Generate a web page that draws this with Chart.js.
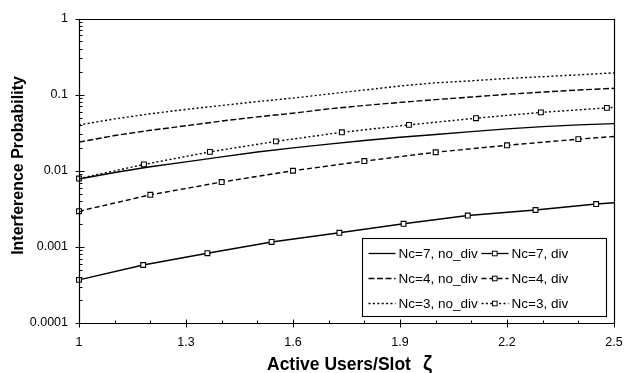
<!DOCTYPE html>
<html><head><meta charset="utf-8">
<script src="https://cdn.jsdelivr.net/npm/chart.js@4.4.1/dist/chart.umd.min.js"></script>
<style>html,body{margin:0;padding:0;background:#fff;} canvas{display:block;}</style>
</head><body>
<canvas id="c" width="637" height="373"></canvas>
<script>
// ---- data ----
const xNoDiv   = [1.0,1.1,1.2,1.3,1.4,1.5,1.6,1.7,1.8,1.9,2.0,2.1,2.2,2.3,2.4,2.5];
const nc7NoDiv = [0.0078,0.0095,0.0113,0.0131,0.0152,0.0176,0.0200,0.0224,0.0250,0.0275,0.0300,0.0327,0.0355,0.0380,0.0400,0.0416];
const nc4NoDiv = [0.0238,0.029,0.034,0.039,0.045,0.051,0.057,0.065,0.072,0.079,0.086,0.093,0.101,0.108,0.115,0.121];
const nc3NoDiv = [0.040,0.048,0.056,0.064,0.072,0.081,0.090,0.102,0.115,0.130,0.143,0.152,0.163,0.172,0.182,0.193];
const xNc7Div  = [1.0,1.18,1.36,1.54,1.73,1.91,2.09,2.28,2.45,2.5];
const nc7Div   = [0.000369,0.000578,0.000826,0.00116,0.00153,0.00201,0.00258,0.00305,0.00365,0.0038];
const xNc4Div  = [1.0,1.2,1.4,1.6,1.8,2.0,2.2,2.4,2.5];
const nc4Div   = [0.00294,0.00483,0.0071,0.0100,0.0134,0.0175,0.0216,0.026,0.0282];
const xNc3Div  = [1.0,1.182,1.367,1.552,1.737,1.925,2.113,2.295,2.48,2.5];
const nc3Div   = [0.0079,0.0121,0.0177,0.0243,0.032,0.040,0.049,0.0584,0.067,0.068];
const seriesNames = ['Nc=7, no_div','Nc=7, div','Nc=4, no_div','Nc=4, div','Nc=3, no_div','Nc=3, div'];
const xTickValues = [1,1.3,1.6,1.9,2.2,2.5];
const xTickLabels = ['1','1.3','1.6','1.9','2.2','2.5'];
const yTickValues = [0.0001,0.001,0.01,0.1,1];
const yTickLabels = ['0.0001','0.001','0.01','0.1','1'];
const xTitle = 'Active Users/Slot';
const xTitleSymbol = '\u03B6';
const yTitle = 'Interference Probability';

const FONT = "'Liberation Sans', Arial, Helvetica, sans-serif";
const pts = (xs, ys) => xs.map((x, i) => ({x: x, y: ys[i]}));
const markerRadius = c => (c.raw && c.raw.x >= 2.5) ? 0 : 3.4;
const DASH = [6, 2.5], DASH2 = [5, 3], DOT = [2, 2.4];

function ds(label, data, dash, markers) {
  return {
    label, data,
    borderColor: '#000', backgroundColor: '#fff',
    borderWidth: 1.4, borderDash: dash, tension: 0,
    pointStyle: 'rect',
    pointRadius: markers ? markerRadius : 0,
    pointBorderWidth: 1.1, pointBorderColor: '#000', pointBackgroundColor: '#fff',
    clip: 6
  };
}

const datasets = [
  ds(seriesNames[0], pts(xNoDiv, nc7NoDiv), [], false),
  ds(seriesNames[1], pts(xNc7Div, nc7Div), [], true),
  ds(seriesNames[2], pts(xNoDiv, nc4NoDiv), DASH, false),
  ds(seriesNames[3], pts(xNc4Div, nc4Div), DASH2, true),
  ds(seriesNames[4], pts(xNoDiv, nc3NoDiv), DOT, false),
  ds(seriesNames[5], pts(xNc3Div, nc3Div), DOT, true)
];

const frame = {
  id: 'frame',
  afterDraw(chart) {
    const {ctx, chartArea: a, scales: {x, y}} = chart;
    ctx.save();
    ctx.strokeStyle = '#000';
    ctx.lineWidth = 1.2;
    const L = Math.round(a.left) + 0.5, R = Math.round(a.right) + 0.5;
    const T = Math.round(a.top) + 0.5, B = Math.round(a.bottom) + 0.5;
    ctx.beginPath();
    ctx.rect(L, T, R - L, B - T);
    ctx.stroke();
    ctx.lineWidth = 1;
    ctx.beginPath();
    // x ticks
    for (let v = 1; v <= 2.5001; v += 0.1) {
      const px = Math.round(x.getPixelForValue(v)) + 0.5;
      const isMajor = xTickValues.some(t => Math.abs(t - v) < 1e-6);
      if (isMajor) { ctx.moveTo(px, B - 4); ctx.lineTo(px, B + 4); }
      else { ctx.moveTo(px, B); ctx.lineTo(px, B - 3); }
    }
    // y ticks
    for (let e = -4; e <= 0; e++) {
      const base = Math.pow(10, e);
      const py = Math.round(y.getPixelForValue(base)) + 0.5;
      ctx.moveTo(L - 4, py); ctx.lineTo(L + 5, py);
      if (e < 0) {
        for (let k = 2; k <= 9; k++) {
          const q = Math.round(y.getPixelForValue(k * base)) + 0.5;
          ctx.moveTo(L, q); ctx.lineTo(L + 3, q);
        }
      }
    }
    ctx.stroke();

    // axis titles
    ctx.fillStyle = '#000';
    ctx.font = 'bold 17.5px ' + FONT;
    ctx.textBaseline = 'middle';
    ctx.textAlign = 'left';
    const tx = a.left + 188, ty = a.bottom + 42;
    ctx.fillText(xTitle, tx, ty);
    const w = ctx.measureText(xTitle).width;
    ctx.font = 'bold 20px ' + FONT;
    ctx.fillText(xTitleSymbol, tx + w + 12, ty - 1);
    ctx.save();
    ctx.translate(19, a.top + 147);
    ctx.rotate(-Math.PI / 2);
    ctx.font = 'bold 16px ' + FONT;
    ctx.textAlign = 'center';
    ctx.fillText(yTitle, 0, 0);
    ctx.restore();

    // legend box
    const bx = Math.round(a.right - 252) + 0.5, by = Math.round(a.bottom - 85) + 0.5;
    const bw = 244, bh = 78;
    ctx.fillStyle = '#fff';
    ctx.fillRect(bx, by, bw, bh);
    ctx.strokeStyle = '#000';
    ctx.lineWidth = 1.1;
    ctx.strokeRect(bx, by, bw, bh);
    chart.data.datasets.forEach((d, i) => {
      const col = i % 2, row = Math.floor(i / 2);
      const sx = bx + (col ? 119 : 6), sy = by + 15 + row * 25;
      ctx.save();
      ctx.setLineDash(d.borderDash || []);
      ctx.lineWidth = 1.3;
      ctx.beginPath();
      ctx.moveTo(sx, sy); ctx.lineTo(sx + 27, sy);
      ctx.stroke();
      ctx.restore();
      if (typeof d.pointRadius === 'function') {
        ctx.fillStyle = '#fff';
        ctx.fillRect(sx + 11, sy - 2.3, 4.6, 4.6);
        ctx.lineWidth = 1;
        ctx.strokeRect(sx + 11, sy - 2.3, 4.6, 4.6);
      }
      ctx.fillStyle = '#000';
      ctx.font = '13.5px ' + FONT;
      ctx.textAlign = 'left';
      ctx.textBaseline = 'middle';
      ctx.fillText(d.label, sx + 30, sy + 1);
    });
    ctx.restore();
  }
};

new Chart(document.getElementById('c'), {
  type: 'line',
  data: {datasets},
  options: {
    responsive: false, animation: false, devicePixelRatio: 1,
    layout: {padding: {top: 15, right: 23, left: 0, bottom: 0}},
    plugins: {legend: {display: false}, tooltip: {enabled: false}},
    scales: {
      x: {
        type: 'linear', min: 1, max: 2.5,
        afterBuildTicks(s) { s.ticks = xTickValues.map(v => ({value: v})); },
        afterFit(s) { s.height = 50; },
        grid: {display: true, drawOnChartArea: false, drawTicks: false},
        border: {display: false},
        ticks: {padding: 12, color: '#000', autoSkip: false, maxRotation: 0,
          font: {family: FONT, size: 12.5},
          callback: (v, i) => xTickLabels[i]}
      },
      y: {
        type: 'logarithmic', min: 0.0001, max: 1,
        afterBuildTicks(s) { s.ticks = yTickValues.map(v => ({value: v})); },
        afterFit(s) { s.width = 79; },
        grid: {display: true, drawOnChartArea: false, drawTicks: false},
        border: {display: false},
        ticks: {padding: 11, color: '#000', autoSkip: false,
          font: {family: FONT, size: 12.5},
          callback: (v, i) => yTickLabels[i]}
      }
    }
  },
  plugins: [frame]
});
</script>
</body></html>
